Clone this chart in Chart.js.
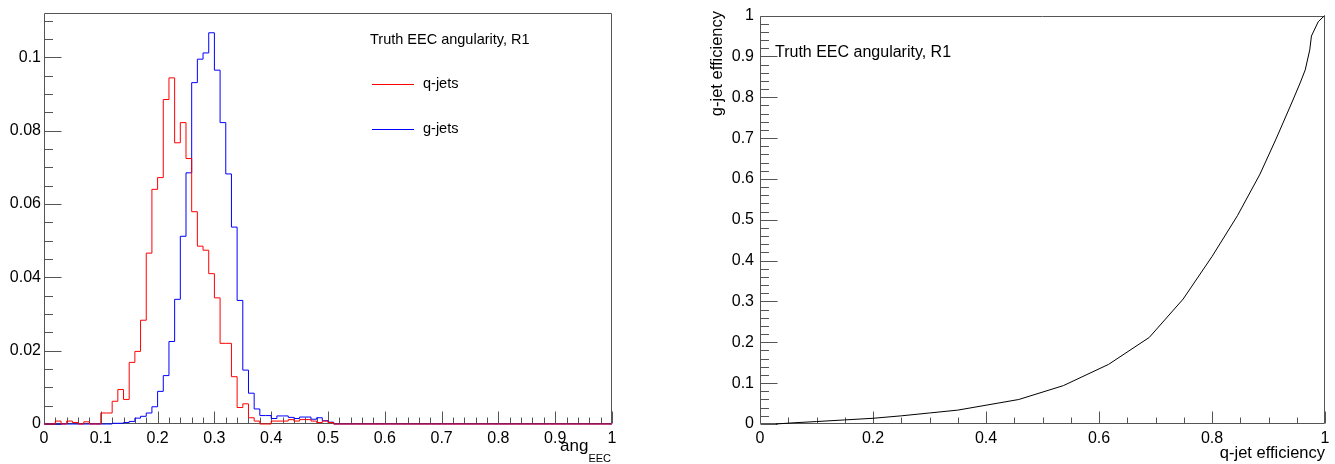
<!DOCTYPE html>
<html><head><meta charset="utf-8">
<script src="https://cdn.jsdelivr.net/npm/chart.js@4.4.1/dist/chart.umd.min.js"></script>
<style>
html,body{margin:0;padding:0;background:#fff;}
#wrap{position:relative;width:1335px;height:464px;overflow:hidden;}
.pane{position:absolute;top:0;height:464px;}
</style></head><body>
<div id="wrap">
<div class="pane" style="left:0;width:667px"><canvas id="c1"></canvas></div>
<div class="pane" style="left:667px;width:668px"><canvas id="c2"></canvas></div>
</div>
<script>
const FONT = "'Liberation Sans', Arial, Helvetica, sans-serif";
const panelText = "Truth EEC angularity, R1";
const seriesNames = ["q-jets", "g-jets"];
const seriesColors = ["#ff0000", "#0000ff"];
const histRange = [0, 1];
const histBins = 100;
const histYMax = 0.1122;
const histXTickLabels = [0, 0.1, 0.2, 0.3, 0.4, 0.5, 0.6, 0.7, 0.8, 0.9, 1];
const histYTickLabels = [0, 0.02, 0.04, 0.06, 0.08, 0.1];
const rocTickX = [0, 0.2, 0.4, 0.6, 0.8, 1];
const rocTickY = [0, 0.1, 0.2, 0.3, 0.4, 0.5, 0.6, 0.7, 0.8, 0.9, 1];

const qJets = [
 0,0,0.0008,0,0.0008,0.0004,0,0.0006,0,0,
 0.003,0.003,0.0062,0.0094,0.0067,0.0168,0.0198,0.0283,0.0466,0.064,
 0.0672,0.0885,0.0944,0.0767,0.0822,0.0724,0.0579,0.0485,0.0474,0.041,
 0.0344,0.022,0.022,0.0129,0.0045,0.0055,0.0017,0.0008,0,0,
 0.0008,0.0008,0.0008,0.0012,0.0008,0.0012,0.0012,0.0008,0.0004,0.0008,
 0.0004,0,0,0,0,0,0,0,0,0,
 0,0,0,0,0,0,0,0,0,0,
 0,0,0,0,0,0,0,0,0,0,
 0,0,0,0,0,0,0,0,0,0,
 0,0,0,0,0,0,0,0,0,0
];
const gJets = [
 0,0,0,0,0,0,0,0,0,0,
 0,0,0.0002,0.0002,0.0004,0.0007,0.0016,0.0021,0.003,0.0047,
 0.0089,0.0132,0.0225,0.034,0.0512,0.0685,0.0931,0.0995,0.1012,0.1067,
 0.0965,0.0822,0.0682,0.0537,0.0337,0.0147,0.0084,0.0041,0.0023,0.0023,
 0.0015,0.0022,0.0022,0.0018,0.0015,0.0019,0.0019,0.0013,0.0017,0.0009,
 0.0005,0,0,0,0,0,0,0,0,0,
 0,0,0,0,0,0,0,0,0,0,
 0,0,0,0,0,0,0,0,0,0,
 0,0,0,0,0,0,0,0,0,0,
 0,0,0,0,0,0,0,0,0,0
];
const rocQEff = [0.028,0.06,0.1,0.15,0.2,0.25,0.3,0.35,0.4,0.458,0.537,0.617,0.689,0.749,0.80,0.845,0.885,0.914,0.941,0.956,0.965,0.973,0.976,0.988,0.997,1.0];
const rocGEff = [0.0,0.003,0.006,0.01,0.014,0.02,0.027,0.034,0.046,0.060,0.094,0.146,0.212,0.306,0.41,0.51,0.612,0.70,0.786,0.835,0.867,0.916,0.95,0.985,0.997,1.0];

function histPoints(vals){
  const w = (histRange[1]-histRange[0])/histBins;
  const pts = vals.map((v,i)=>({x: histRange[0]+i*w, y: v}));
  pts.push({x: histRange[1], y: vals[vals.length-1]});
  return pts;
}

function frameTicks(cfg){
  return {
    id: 'frameTicks',
    beforeDatasetsDraw(chart){
      const ctx = chart.ctx, a = chart.chartArea;
      const xs = chart.scales.x, ys = chart.scales.y;
      ctx.save();
      ctx.strokeStyle = '#555';
      ctx.lineWidth = 1;
      const L = Math.round(a.left)+0.5, R = Math.round(a.right)-0.5;
      const T = Math.round(a.top)+0.5, B = Math.round(a.bottom)-0.5;
      ctx.beginPath();
      ctx.rect(L, T, R-L, B-T);
      ctx.stroke();
      ctx.beginPath();
      const nx = Math.round((xs.max-xs.min)/cfg.xMinor);
      for(let i=0;i<=nx;i++){
        const v = xs.min + i*cfg.xMinor;
        const major = Math.abs(v/cfg.xMajor - Math.round(v/cfg.xMajor))<1e-6;
        const len = major ? cfg.xLen : cfg.xLen/2;
        const px = Math.round(xs.getPixelForValue(v))+0.5;
        ctx.moveTo(px, B); ctx.lineTo(px, B-len);
      }
      const ny = Math.floor((ys.max-ys.min)/cfg.yMinor+1e-6);
      for(let i=0;i<=ny;i++){
        const v = ys.min + i*cfg.yMinor;
        const major = Math.abs(v/cfg.yMajor - Math.round(v/cfg.yMajor))<1e-6;
        const len = major ? cfg.yLen : cfg.yLen/2;
        const py = Math.round(ys.getPixelForValue(v))+0.5;
        ctx.moveTo(L, py); ctx.lineTo(L+len, py);
      }
      ctx.stroke();
      ctx.restore();
    }
  };
}

function axisCommon(min, max, labels, pad){
  return {
    type: 'linear', min, max,
    grid: {display: false, drawTicks: false},
    border: {display: false},
    ticks: {
      includeBounds: false,
      autoSkip: false,
      maxRotation: 0,
      padding: pad,
      color: '#000',
      font: {family: FONT, size: 16},
      callback: v => String(Math.round(v*1000)/1000)
    },
    afterBuildTicks(s){ s.ticks = labels.map(v=>({value: v})); }
  };
}

const leftTextPlugin = {
  id: 'leftText',
  afterDraw(chart){
    const ctx = chart.ctx;
    ctx.save();
    ctx.fillStyle = '#000';
    ctx.textBaseline = 'middle';
    ctx.font = '14.5px ' + FONT;
    ctx.textAlign = 'left';
    ctx.fillText(panelText, 370, 40);
    const ys = [84, 129];
    chart.data.datasets.forEach((d,i)=>{
      ctx.strokeStyle = d.borderColor; ctx.lineWidth = 1;
      ctx.beginPath(); ctx.moveTo(372, ys[i]+0.5); ctx.lineTo(414, ys[i]+0.5); ctx.stroke();
      ctx.fillText(d.label, 423, ys[i]);
    });
    ctx.textBaseline = 'alphabetic';
    ctx.font = '11px ' + FONT;
    const wSub = ctx.measureText('EEC').width;
    ctx.font = '17px ' + FONT;
    const wMain = ctx.measureText('ang').width;
    const xEnd = 611;
    ctx.textAlign = 'left';
    ctx.fillText('ang', xEnd - wSub - wMain, 451);
    ctx.font = '11px ' + FONT;
    ctx.fillText('EEC', xEnd - wSub, 462);
    ctx.restore();
  }
};

new Chart(document.getElementById('c1'), {
  type: 'scatter',
  data: {
    datasets: [
      {label: seriesNames[0], data: histPoints(qJets), borderColor: seriesColors[0]},
      {label: seriesNames[1], data: histPoints(gJets), borderColor: seriesColors[1]}
    ].map(d=>Object.assign(d, {showLine: true, stepped: true, borderWidth: 1, pointRadius: 0, fill: false, clip: 4}))
  },
  options: {
    responsive: true, maintainAspectRatio: false, animation: false,
    devicePixelRatio: 1,
    layout: {padding: {left: 0, right: 55, top: 12, bottom: 0}},
    plugins: {legend: {display: false}, tooltip: {enabled: false}},
    scales: {
      x: Object.assign(axisCommon(histRange[0], histRange[1], histXTickLabels, 5), {
        afterFit(s){ s.height = 40; }
      }),
      y: Object.assign(axisCommon(0, histYMax, histYTickLabels, 3), {
        afterFit(s){ s.width = 44; }
      })
    }
  },
  plugins: [frameTicks({xMajor: 0.1, xMinor: 0.02, xLen: 12, yMajor: 0.02, yMinor: 0.005, yLen: 17}), leftTextPlugin]
});

const rightTextPlugin = {
  id: 'rightText',
  afterDraw(chart){
    const ctx = chart.ctx;
    ctx.save();
    ctx.fillStyle = '#000';
    ctx.font = '16px ' + FONT;
    ctx.textBaseline = 'middle';
    ctx.textAlign = 'left';
    ctx.fillText(panelText, 775-667, 53);
    ctx.font = '16.5px ' + FONT;
    ctx.textBaseline = 'alphabetic';
    ctx.textAlign = 'right';
    ctx.fillText('q-jet efficiency', 1325-667, 458);
    ctx.save();
    ctx.translate(722-667, 11);
    ctx.rotate(-Math.PI/2);
    ctx.textAlign = 'right';
    ctx.fillText('g-jet efficiency', 0, 0);
    ctx.restore();
    ctx.restore();
  }
};

new Chart(document.getElementById('c2'), {
  type: 'scatter',
  data: {
    datasets: [{
      label: 'ROC',
      data: rocQEff.map((x,i)=>({x, y: rocGEff[i]})),
      showLine: true, borderColor: '#000', borderWidth: 1, pointRadius: 0, fill: false, tension: 0, clip: 4
    }]
  },
  options: {
    responsive: true, maintainAspectRatio: false, animation: false,
    devicePixelRatio: 1,
    layout: {padding: {left: 0, right: 10, top: 12, bottom: 0}},
    plugins: {legend: {display: false}, tooltip: {enabled: false}},
    scales: {
      x: Object.assign(axisCommon(0, 1, rocTickX, 5), {
        afterFit(s){ s.height = 40; }
      }),
      y: Object.assign(axisCommon(0, 1, rocTickY, 6), {
        afterFit(s){ s.width = 93; }
      })
    }
  },
  plugins: [frameTicks({xMajor: 0.2, xMinor: 0.05, xLen: 12, yMajor: 0.1, yMinor: 0.02, yLen: 17}), rightTextPlugin]
});
</script>
</body></html>
